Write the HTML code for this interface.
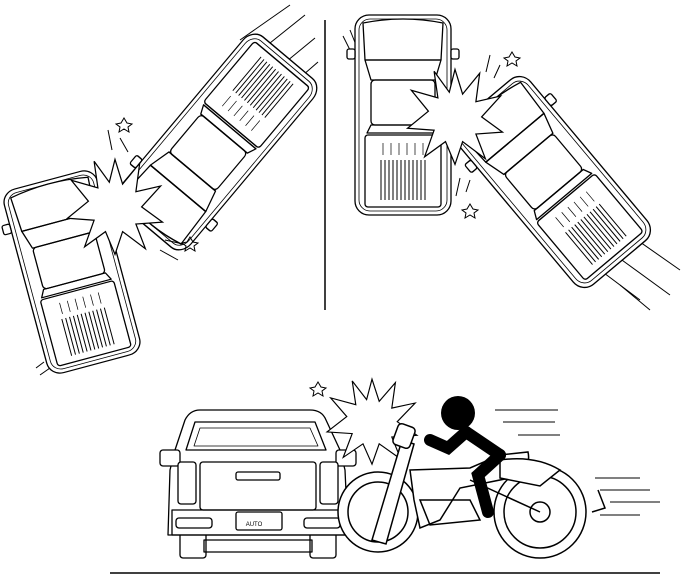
<!DOCTYPE html>
<html><head><meta charset="utf-8"><style>
html,body{margin:0;padding:0;background:#fff;}
svg{display:block;}
</style></head><body>
<svg width="689" height="576" viewBox="0 0 689 576" xmlns="http://www.w3.org/2000/svg">
<defs>
<g id="truck" fill="#fff" stroke="#000" stroke-width="1.3" stroke-linejoin="round">
  <rect x="-48" y="-100" width="96" height="200" rx="14"/>
  <rect x="-44" y="-96" width="88" height="192" rx="11" fill="none" stroke-width="0.8"/>
  <path d="M-40,-92 Q0,-100 40,-92 L38,-55 L-38,-55 Z" fill="none"/>
  <path d="M-38,-55 L38,-55 L32,-35 L-32,-35 Z" fill="none"/>
  <rect x="-32" y="-35" width="64" height="45" rx="4" fill="none"/>
  <path d="M-32,10 L32,10 L36,18 L-36,18 Z" fill="none"/>
  <rect x="-38" y="20" width="76" height="72" rx="3" fill="none"/>
  <path d="M-22,45 V85 M-18,45 V85 M-14,45 V85 M-10,45 V85 M-6,45 V85 M-2,45 V85 M2,45 V85 M6,45 V85 M10,45 V85 M14,45 V85 M18,45 V85 M22,45 V85" stroke-width="1"/>
  <path d="M-20,28 V40 M-12,28 V40 M-4,28 V40 M4,28 V40 M12,28 V40 M20,28 V40" stroke-width="0.7"/>
  <rect x="-56" y="-66" width="8" height="10" rx="2"/>
  <rect x="48" y="-66" width="8" height="10" rx="2"/>
</g>
<polygon id="burst" fill="#fff" stroke="#000" stroke-width="1.3" points="0,-48 8,-22 26,-44 22,-14 48,-20 28,2 50,18 22,20 32,46 8,28 0,52 -10,28 -32,44 -22,16 -50,14 -28,-4 -46,-26 -18,-18 -22,-46 -6,-24"/>
</defs>

<line x1="325" y1="20" x2="325" y2="310" stroke="#000" stroke-width="1.5"/>

<g stroke="#000" stroke-width="1">
<line x1="240" y1="40" x2="290" y2="5"/><line x1="255" y1="55" x2="305" y2="15"/><line x1="270" y1="75" x2="315" y2="38"/><line x1="280" y1="95" x2="318" y2="62"/>
<line x1="40" y1="375" x2="50" y2="368"/><line x1="36" y1="368" x2="44" y2="362"/>
</g>
<use href="#truck" transform="translate(217,142) rotate(220) scale(0.95,1.1)"/>
<use href="#truck" transform="translate(72,272) rotate(-15) scale(1,0.95)"/>
<use href="#burst" transform="translate(115,205) scale(0.95)"/>
<g stroke="#000" stroke-width="1" fill="none">
<path d="M124,118 l3,5 5,1 -4,3 1,5 -5,-3 -5,3 1,-5 -4,-3 5,-1z"/>
<path d="M190,237 l3,5 5,1 -4,3 1,5 -5,-3 -5,3 1,-5 -4,-3 5,-1z"/>
<line x1="108" y1="130" x2="112" y2="150"/><line x1="120" y1="138" x2="128" y2="152"/>
<line x1="165" y1="240" x2="183" y2="244"/><line x1="160" y1="250" x2="178" y2="260"/>
</g>

<g stroke="#000" stroke-width="1">
<line x1="600" y1="270" x2="640" y2="300"/><line x1="615" y1="255" x2="670" y2="295"/><line x1="630" y1="235" x2="680" y2="270"/><line x1="620" y1="285" x2="650" y2="310"/>
<line x1="350" y1="30" x2="356" y2="45"/><line x1="343" y1="36" x2="350" y2="50"/>
</g>
<use href="#truck" transform="translate(403,115) scale(1,1)"/>
<use href="#truck" transform="translate(552,182) rotate(-40) scale(1,1.05)"/>
<use href="#burst" transform="translate(455,115) scale(0.95)"/>
<g stroke="#000" stroke-width="1" fill="none">
<path d="M512,52 l3,5 5,1 -4,3 1,5 -5,-3 -5,3 1,-5 -4,-3 5,-1z"/>
<path d="M470,204 l3,5 5,1 -4,3 1,5 -5,-3 -5,3 1,-5 -4,-3 5,-1z"/>
<line x1="490" y1="55" x2="486" y2="72"/><line x1="500" y1="65" x2="494" y2="78"/>
<line x1="460" y1="178" x2="456" y2="196"/><line x1="470" y1="180" x2="466" y2="192"/>
</g>

<line x1="110" y1="573" x2="660" y2="573" stroke="#000" stroke-width="1.5"/>
<g stroke="#000" stroke-width="1.3" fill="#fff" stroke-linejoin="round">
  <rect x="180" y="530" width="26" height="28" rx="3"/>
  <rect x="310" y="530" width="26" height="28" rx="3"/>
  <path d="M185,420 Q190,410 200,410 L310,410 Q322,410 326,420 L340,450 L345,470 L348,535 L168,535 L170,470 L175,450 Z"/>
  <path d="M195,422 L315,422 L326,450 L186,450 Z" fill="none"/>
  <path d="M200,428 L310,428 L318,446 L194,446 Z" fill="none" stroke-width="0.8"/>
  <rect x="160" y="450" width="20" height="16" rx="3"/>
  <rect x="336" y="450" width="20" height="16" rx="3"/>
  <rect x="178" y="462" width="18" height="42" rx="3"/>
  <rect x="320" y="462" width="18" height="42" rx="3"/>
  <rect x="200" y="462" width="116" height="48" rx="3" fill="none"/>
  <rect x="236" y="472" width="44" height="8" rx="2" fill="none"/>
  <path d="M172,510 L345,510 L345,535 L172,535 Z" fill="none"/>
  <rect x="176" y="518" width="36" height="10" rx="3"/>
  <rect x="304" y="518" width="36" height="10" rx="3"/>
  <rect x="236" y="512" width="46" height="18" rx="2"/>
  <path d="M204,540 L312,540 L312,552 L204,552 Z" fill="none"/>
</g>
<use href="#burst" transform="translate(372,420) scale(0.9,0.85)"/>
<path d="M318,382 l3,5 5,1 -4,3 1,5 -5,-3 -5,3 1,-5 -4,-3 5,-1z" stroke="#000" fill="none"/>
<g stroke="#000" stroke-width="1.5" fill="#fff">
  <circle cx="378" cy="512" r="40"/>
  <circle cx="378" cy="512" r="30" fill="none"/>
  <circle cx="540" cy="512" r="46"/>
  <circle cx="540" cy="512" r="36" fill="none"/>
  <circle cx="540" cy="512" r="10"/>
  <path d="M402,440 L372,540 L386,544 L414,444 Z"/>
  <rect x="395" y="425" width="18" height="22" rx="4" transform="rotate(20 404 436)"/>
  <path d="M410,470 L470,468 L500,455 L528,452 Q532,470 510,478 L460,488 L440,520 L420,528 L414,500 Z"/>
  <path d="M500,460 Q535,455 560,470 L540,486 L500,478 Z"/>
  <path d="M420,500 L470,500 L480,520 L430,525 Z" fill="none"/>
  <path d="M470,480 L540,512" fill="none"/>
  <path d="M598,490 L605,508 L592,512" fill="none"/>
</g>
<circle cx="458" cy="413" r="17" fill="#000"/>
<g stroke="#000" stroke-width="12" stroke-linecap="round" fill="none">
  <path d="M466,432 L500,455"/>
  <path d="M500,455 L478,475 L488,512"/>
  <path d="M466,432 L448,448 L430,440"/>
</g>
<g stroke="#000" stroke-width="1">
<line x1="495" y1="410" x2="558" y2="410"/><line x1="503" y1="422" x2="555" y2="422"/>
<line x1="518" y1="435" x2="560" y2="435"/>
<line x1="595" y1="478" x2="640" y2="478"/><line x1="600" y1="490" x2="650" y2="490"/>
<line x1="610" y1="502" x2="660" y2="502"/><line x1="600" y1="515" x2="640" y2="515"/>
</g>
<text x="254" y="526" font-family="Liberation Sans, sans-serif" font-size="6" text-anchor="middle">AUTO</text>
</svg>
</body></html>
